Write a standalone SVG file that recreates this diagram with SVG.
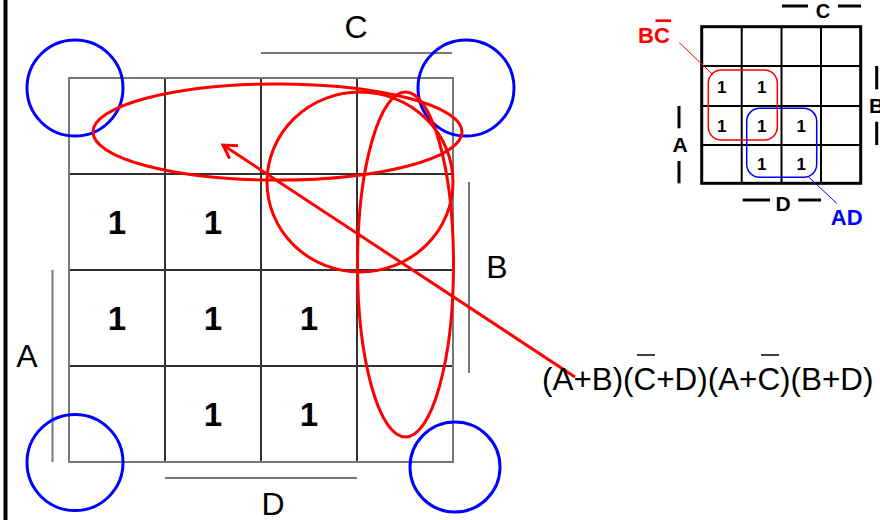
<svg xmlns="http://www.w3.org/2000/svg" width="880" height="520" viewBox="0 0 880 520">
<style>
.outer{fill:none;stroke:#777;stroke-width:2}
.inner{stroke:#333;stroke-width:2}
.lab{stroke:#777;stroke-width:2}
.t{font-family:"Liberation Sans",Arial,sans-serif;font-size:32px;fill:#000}
.one{font-family:"Liberation Sans",Arial,sans-serif;font-size:33px;font-weight:bold;text-anchor:middle;fill:#000}
.blue{fill:none;stroke:#0000ff;stroke-width:3}
.red{fill:none;stroke:#ff0000;stroke-width:3}
.s1{font-family:"Liberation Sans",Arial,sans-serif;font-size:17px;font-weight:bold;text-anchor:middle;fill:#000}
.sb{font-family:"Liberation Sans",Arial,sans-serif;font-size:21px;font-weight:bold;text-anchor:middle;fill:#000}
.sl{stroke:#000;stroke-width:3}
</style>
<defs>
<marker id="ah" markerUnits="userSpaceOnUse" markerWidth="20" markerHeight="20" refX="15" refY="8.7" orient="auto" viewBox="0 0 20 20">
<path d="M2,1 L15,8.7 L2,16.4" fill="none" stroke="#ff0000" stroke-width="3"/>
</marker>
</defs>
<rect width="880" height="520" fill="#fff"/>
<line x1="5.5" y1="0" x2="5.5" y2="520" stroke="#000" stroke-width="4"/>

<g id="main-map">
<line class="inner" x1="165" y1="78" x2="165" y2="462"/>
<line class="inner" x1="261" y1="78" x2="261" y2="462"/>
<line class="inner" x1="357" y1="78" x2="357" y2="462"/>
<line class="inner" x1="69" y1="174" x2="453" y2="174"/>
<line class="inner" x1="69" y1="270" x2="453" y2="270"/>
<line class="inner" x1="69" y1="366" x2="453" y2="366"/>
<rect class="outer" x="69" y="78" width="384" height="384"/>
</g>

<g id="main-labels">
<line class="lab" x1="261" y1="53" x2="452" y2="53"/>
<text class="t" x="356" y="38" text-anchor="middle">C</text>
<line class="lab" x1="469" y1="182" x2="469" y2="373"/>
<text class="t" x="497" y="278" text-anchor="middle">B</text>
<line class="lab" x1="52.5" y1="270" x2="52.5" y2="462"/>
<text class="t" x="27" y="367" text-anchor="middle">A</text>
<line class="lab" x1="165" y1="478" x2="357" y2="478"/>
<text class="t" x="273" y="515" text-anchor="middle">D</text>
</g>

<g id="main-ones">
<text class="one" x="117" y="234">1</text>
<text class="one" x="213" y="234">1</text>
<text class="one" x="117" y="330">1</text>
<text class="one" x="213" y="330">1</text>
<text class="one" x="309" y="330">1</text>
<text class="one" x="213" y="426">1</text>
<text class="one" x="309" y="426">1</text>
</g>

<g id="corner-circles">
<circle class="blue" cx="75" cy="88" r="48"/>
<circle class="blue" cx="466" cy="88" r="48"/>
<circle class="blue" cx="75" cy="462.5" r="48"/>
<circle class="blue" cx="455" cy="467" r="45"/>
</g>

<g id="red-groups">
<ellipse class="red" cx="277.5" cy="132" rx="184.5" ry="48"/>
<ellipse class="red" cx="360" cy="182" rx="93" ry="90"/>
<ellipse class="red" cx="405.5" cy="264.5" rx="48" ry="172.5"/>
</g>

<g id="connectors">
<line x1="575" y1="377" x2="223" y2="145" stroke="#ff0000" stroke-width="3" marker-end="url(#ah)"/>
</g>

<g id="expression">
<text class="t" x="542" y="390" style="font-size:31.4px">(A+B)(C+D)(A+C)(B+D)</text>
<line x1="637" y1="355" x2="655" y2="355" stroke="#000" stroke-width="1.5"/>
<line x1="761" y1="355" x2="779" y2="355" stroke="#000" stroke-width="1.5"/>
</g>

<g id="small-map">
<line x1="741.7" y1="26.7" x2="741.7" y2="183.3" stroke="#000" stroke-width="2"/>
<line x1="781.5" y1="26.7" x2="781.5" y2="183.3" stroke="#000" stroke-width="2"/>
<line x1="821" y1="26.7" x2="821" y2="183.3" stroke="#000" stroke-width="2"/>
<line x1="701.7" y1="66" x2="860.7" y2="66" stroke="#000" stroke-width="2"/>
<line x1="701.7" y1="106" x2="860.7" y2="106" stroke="#000" stroke-width="2"/>
<line x1="701.7" y1="145" x2="860.7" y2="145" stroke="#000" stroke-width="2"/>
<rect x="701.7" y="26.7" width="159" height="156.6" fill="none" stroke="#000" stroke-width="3"/>
<text class="s1" x="721.7" y="93">1</text>
<text class="s1" x="761.7" y="93">1</text>
<text class="s1" x="721.7" y="131.5">1</text>
<text class="s1" x="761.7" y="131.5">1</text>
<text class="s1" x="801.3" y="131.5">1</text>
<text class="s1" x="761.7" y="170">1</text>
<text class="s1" x="801.3" y="170">1</text>
</g>

<g id="small-labels">
<line class="sl" x1="782" y1="6" x2="808" y2="6"/>
<line class="sl" x1="838" y1="6" x2="861" y2="6"/>
<text class="sb" x="823" y="17.5" style="font-size:20px">C</text>
<line class="sl" x1="742.7" y1="200" x2="770" y2="200"/>
<line class="sl" x1="798.3" y1="200" x2="821" y2="200"/>
<text class="sb" x="783" y="211">D</text>
<line class="sl" x1="679" y1="106" x2="679" y2="128.3"/>
<line class="sl" x1="679" y1="161" x2="679" y2="183.3"/>
<text class="sb" x="680" y="152">A</text>
<line class="sl" x1="876.7" y1="66" x2="876.7" y2="89.3"/>
<line class="sl" x1="876.7" y1="121.7" x2="876.7" y2="145"/>
<text class="sb" x="869" y="113" style="text-anchor:start">B</text>
</g>

<g id="bc-group">
<rect x="708.3" y="70" width="69" height="70" rx="13" fill="none" stroke="#ff0000" stroke-width="1.5"/>
<line x1="679.3" y1="42.7" x2="713.3" y2="75" stroke="#ff0000" stroke-width="1"/>
<text class="sb" x="654" y="43.3" style="fill:#ff0000;font-size:22px">BC</text>
<line x1="655.5" y1="20.7" x2="671" y2="20.7" stroke="#ff0000" stroke-width="2.7"/>
</g>

<g id="ad-group">
<rect x="746.7" y="108.3" width="70" height="69" rx="13" fill="none" stroke="#0000ff" stroke-width="1.5"/>
<line x1="808.3" y1="176.7" x2="836.7" y2="203.3" stroke="#0000ff" stroke-width="1"/>
<text class="sb" x="846.7" y="225" style="fill:#0000ff;font-size:22px">AD</text>
</g>
</svg>
